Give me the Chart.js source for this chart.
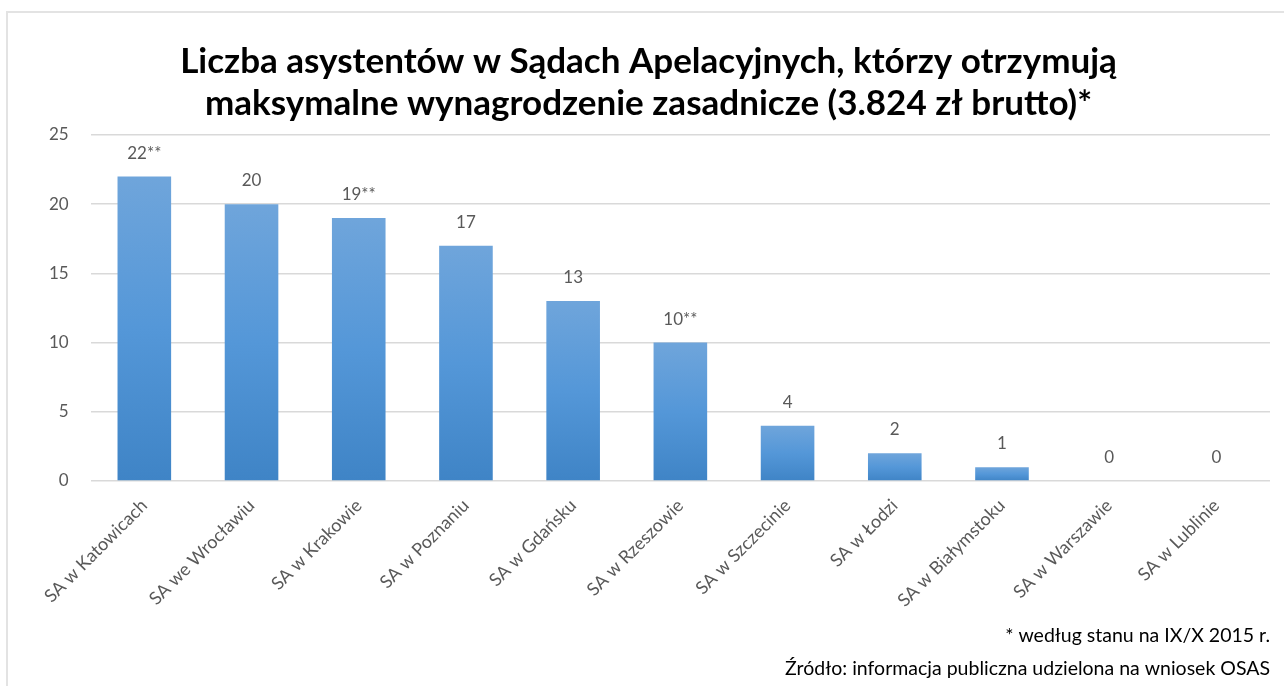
<!DOCTYPE html>
<html>
<head>
<meta charset="utf-8">
<script src="https://cdn.jsdelivr.net/npm/chart.js@4.4.1/dist/chart.umd.min.js"></script>
<style>
  html, body { margin: 0; padding: 0; background: #ffffff; }
  #wrap {
    position: absolute; left: 6px; top: 11px; width: 1278px; height: 675px;
    border-top: 2px solid #e3e3e3; border-left: 2px solid #e3e3e3;
  }
</style>
</head>
<body>
<div id="wrap"><canvas id="chart"></canvas></div>
<script>
// ── Dane ──
const courts = [
  'SA w Katowicach', 'SA we Wrocławiu', 'SA w Krakowie', 'SA w Poznaniu',
  'SA w Gdańsku', 'SA w Rzeszowie', 'SA w Szczecinie', 'SA w Łodzi',
  'SA w Białymstoku', 'SA w Warszawie', 'SA w Lublinie'
];
const assistants = [22, 20, 19, 17, 13, 10, 4, 2, 1, 0, 0];
const valueLabels = ['22**', '20', '19**', '17', '13', '10**', '4', '2', '1', '0', '0'];
const yTicks = [0, 5, 10, 15, 20, 25];
const titleLines = [
  'Liczba asystentów w Sądach Apelacyjnych, którzy otrzymują',
  'maksymalne wynagrodzenie zasadnicze (3.824 zł brutto)*'
];
const footnotes = [
  '* według stanu na IX/X 2015 r.',
  'Źródło: informacja publiczna udzielona na wniosek OSAS'
];

const FONT = "Lato, 'Open Sans', sans-serif";
const GREY = '#595959';

// etykiety nad słupkami
const valueLabelPlugin = {
  id: 'valueLabels',
  afterDatasetsDraw(chart) {
    const { ctx } = chart;
    const meta = chart.getDatasetMeta(0);
    ctx.save();
    ctx.fillStyle = GREY;
    ctx.font = '17px ' + FONT;
    ctx.textAlign = 'center';
    ctx.textBaseline = 'bottom';
    meta.data.forEach((bar, i) => {
      ctx.fillText(valueLabels[i], bar.x, bar.y - 15);
    });
    ctx.restore();
  }
};

// przypisy w prawym dolnym rogu
const footnotePlugin = {
  id: 'footnotes',
  afterDraw(chart) {
    const { ctx, width, height } = chart;
    ctx.save();
    ctx.fillStyle = '#000000';
    ctx.font = '19.5px ' + FONT;
    ctx.textAlign = 'right';
    ctx.textBaseline = 'middle';
    ctx.fillText(footnotes[0], width - 16, height - 52);
    ctx.fillText(footnotes[1], width - 16, height - 19);
    ctx.restore();
  }
};

function barGradient(context) {
  const chart = context.chart;
  const { chartArea, scales } = chart;
  if (!chartArea) return '#5b9bd5';
  const v = context.raw || 0;
  const top = scales.y.getPixelForValue(v);
  const bottom = scales.y.getPixelForValue(0);
  if (bottom - top < 1) return '#5b9bd5';
  const g = chart.ctx.createLinearGradient(0, top, 0, bottom);
  g.addColorStop(0, '#6fa5db');
  g.addColorStop(0.5, '#5497d8');
  g.addColorStop(1, '#3f84c6');
  return g;
}

new Chart(document.getElementById('chart'), {
  type: 'bar',
  data: {
    labels: courts,
    datasets: [{
      data: assistants,
      backgroundColor: barGradient,
      borderWidth: 0,
      categoryPercentage: 1.0,
      barPercentage: 0.5
    }]
  },
  options: {
    responsive: true,
    maintainAspectRatio: false,
    animation: false,
    layout: { padding: { left: 19, right: 16, top: 0, bottom: 0 } },
    scales: {
      x: {
        afterFit(scale) { scale.height = 207; },
        grid: { display: false },
        border: { display: false },
        ticks: {
          color: GREY,
          font: { size: 18, family: FONT },
          minRotation: 45,
          maxRotation: 45,
          padding: 6
        }
      },
      y: {
        min: 0,
        max: 25,
        afterBuildTicks(scale) { scale.ticks = yTicks.map(v => ({ value: v })); },
        grid: { color: '#d9d9d9', lineWidth: 1.5, drawTicks: false },
        border: { display: false },
        ticks: {
          color: GREY,
          font: { size: 17, family: FONT },
          padding: 22
        }
      }
    },
    plugins: {
      legend: { display: false },
      tooltip: { enabled: false },
      title: {
        display: true,
        text: titleLines,
        color: '#000000',
        font: { size: 35, weight: 'bold', family: FONT },
        lineHeight: 1.17,
        padding: { top: 28, bottom: 10 }
      }
    }
  },
  plugins: [valueLabelPlugin, footnotePlugin]
});
</script>
</body>
</html>
